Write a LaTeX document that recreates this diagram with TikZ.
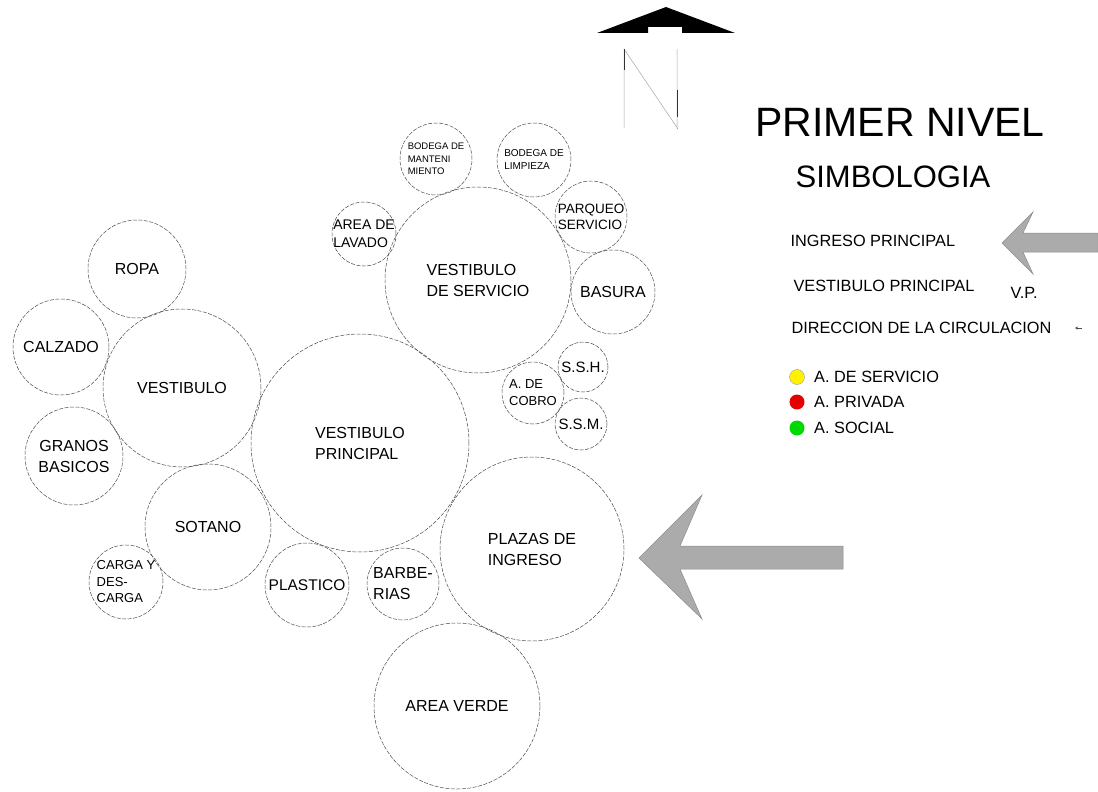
\documentclass[tikz,border=0pt]{standalone}
\usepackage{fontspec}
\setmainfont{Liberation Sans}
\usetikzlibrary{arrows.meta,positioning}

\begin{document}
\begin{tikzpicture}[
    x=1pt, y=-1pt,
    zona/.style={
      circle,
      draw=black!70,
      dash pattern=on 4pt off 1.5pt,
      line width=0.5pt,
      inner sep=-5pt,
      align=left,
      font=\fontsize{16}{21}\selectfont
    },
    leyenda/.style={anchor=west, font=\fontsize{16.3}{19}\selectfont},
    punto/.style={circle, draw=black!40, line width=0.4pt, minimum size=15pt, inner sep=0pt},
    flecha/.style={fill=black!33, draw=black!45, line width=0.5pt},
]
    \useasboundingbox (0,0) rectangle (1098,792);

    % zonas principales
    \node [zona, minimum size=218pt] (vprincipal) at (360,443) {VESTIBULO\\PRINCIPAL};
    \node [zona, minimum size=186pt] (vservicio) at (478,280) {VESTIBULO\\DE SERVICIO};
    \node [zona, minimum size=158pt] (vestibulo) at (182,388) {VESTIBULO};
    \node [zona, minimum size=184pt] (plazas) at (532,549) {PLAZAS DE\\INGRESO};
    \node [zona, minimum size=166pt] (verde) at (457,706) {AREA VERDE};

    % lado izquierdo
    \node [zona, minimum size=98pt] (ropa) at (137,269) {ROPA};
    \node [zona, minimum size=96pt] (calzado) at (61,347) {CALZADO};
    \node [zona, minimum size=98pt, align=center] (granos) at (74,456) {GRANOS\\BASICOS};
    \node [zona, minimum size=126pt] (sotano) at (208,527) {SOTANO};
    \node [zona, minimum size=74pt, font=\fontsize{13}{16.5}\selectfont] (carga) at (126,582) {CARGA Y\\DES-\\CARGA};
    \node [zona, minimum size=84pt, font=\fontsize{15.5}{19}\selectfont] (plastico) at (307,585) {PLASTICO};
    \node [zona, minimum size=72pt] (barberias) at (403,584) {BARBE-\\RIAS};

    % servicio
    \node [zona, minimum size=64pt, font=\fontsize{14}{18}\selectfont] (lavado) at (364,234) {AREA DE\\LAVADO};
    \node [zona, minimum size=72pt, font=\fontsize{9.5}{12.5}\selectfont] (bmant) at (436,159) {BODEGA DE\\MANTENI\\MIENTO};
    \node [zona, minimum size=74pt, font=\fontsize{10}{13}\selectfont] (blimp) at (534,160) {BODEGA DE\\LIMPIEZA};
    \node [zona, minimum size=72pt, font=\fontsize{13.5}{16.5}\selectfont] (parqueo) at (591,217) {PARQUEO\\SERVICIO};
    \node [zona, minimum size=84pt] (basura) at (613,292) {BASURA};
    \node [zona, minimum size=50pt, font=\fontsize{15}{18}\selectfont] (ssh) at (583,367) {S.S.H.};
    \node [zona, minimum size=62pt, font=\fontsize{13}{17}\selectfont] (cobro) at (533,393) {A. DE\\COBRO};
    \node [zona, minimum size=52pt, font=\fontsize{15}{18}\selectfont] (ssm) at (581,424) {S.S.M.};

    % ingreso
    \path [flecha] (639,558) -- (702,495) -- (680,546) -- (843,546) -- (843,569)
        -- (680,569) -- (702,619) -- cycle;

    % norte
    \fill (597,33) -- (666,7) -- (735,33) -- (682,33) -- (682,27) -- (648,27) -- (648,33) -- cycle;
    \draw [black!35, line width=0.5pt] (624,49) -- (624,128) (624,49) -- (678,129) (677,49) -- (677,129);
    \draw [black!80, line width=0.7pt] (624,49) -- (624,70) (677,90) -- (677,117);

    % simbologia
    \node [font=\fontsize{41}{45}\selectfont] (titulo) at (900,122) {PRIMER NIVEL};
    \node [font=\fontsize{31}{35}\selectfont] (simbologia) at (893,177) {SIMBOLOGIA};
    \node [leyenda] (lingreso) at (787,241) {INGRESO PRINCIPAL};
    \node [leyenda] (lvestibulo) at (790,286) {VESTIBULO PRINCIPAL};
    \node [leyenda] (lvp) at (1007,293) {V.P.};
    \node [leyenda] (lcirc) at (788,328) {DIRECCION DE LA CIRCULACION};
    \path [flecha] (1002,243) -- (1033,212) -- (1023,233) -- (1098,233) -- (1098,252)
        -- (1023,252) -- (1033,274) -- cycle;
    \draw [-{Stealth[length=3pt,width=3pt]}, black!70, line width=0.4pt] (1082,328) -- (1075,328);

    \node [punto, fill=yellow] (pservicio) at (797,377) {};
    \node [punto, fill=red!90!black, draw=none] (pprivada) at (797,402) {};
    \node [punto, fill=green!85!black, draw=none] (psocial) at (797,428) {};
    \node [leyenda, right=6pt of pservicio] (lservicio) {A. DE SERVICIO};
    \node [leyenda, right=6pt of pprivada] (lprivada) {A. PRIVADA};
    \node [leyenda, right=6pt of psocial] (lsocial) {A. SOCIAL};

\end{tikzpicture}
\end{document}
